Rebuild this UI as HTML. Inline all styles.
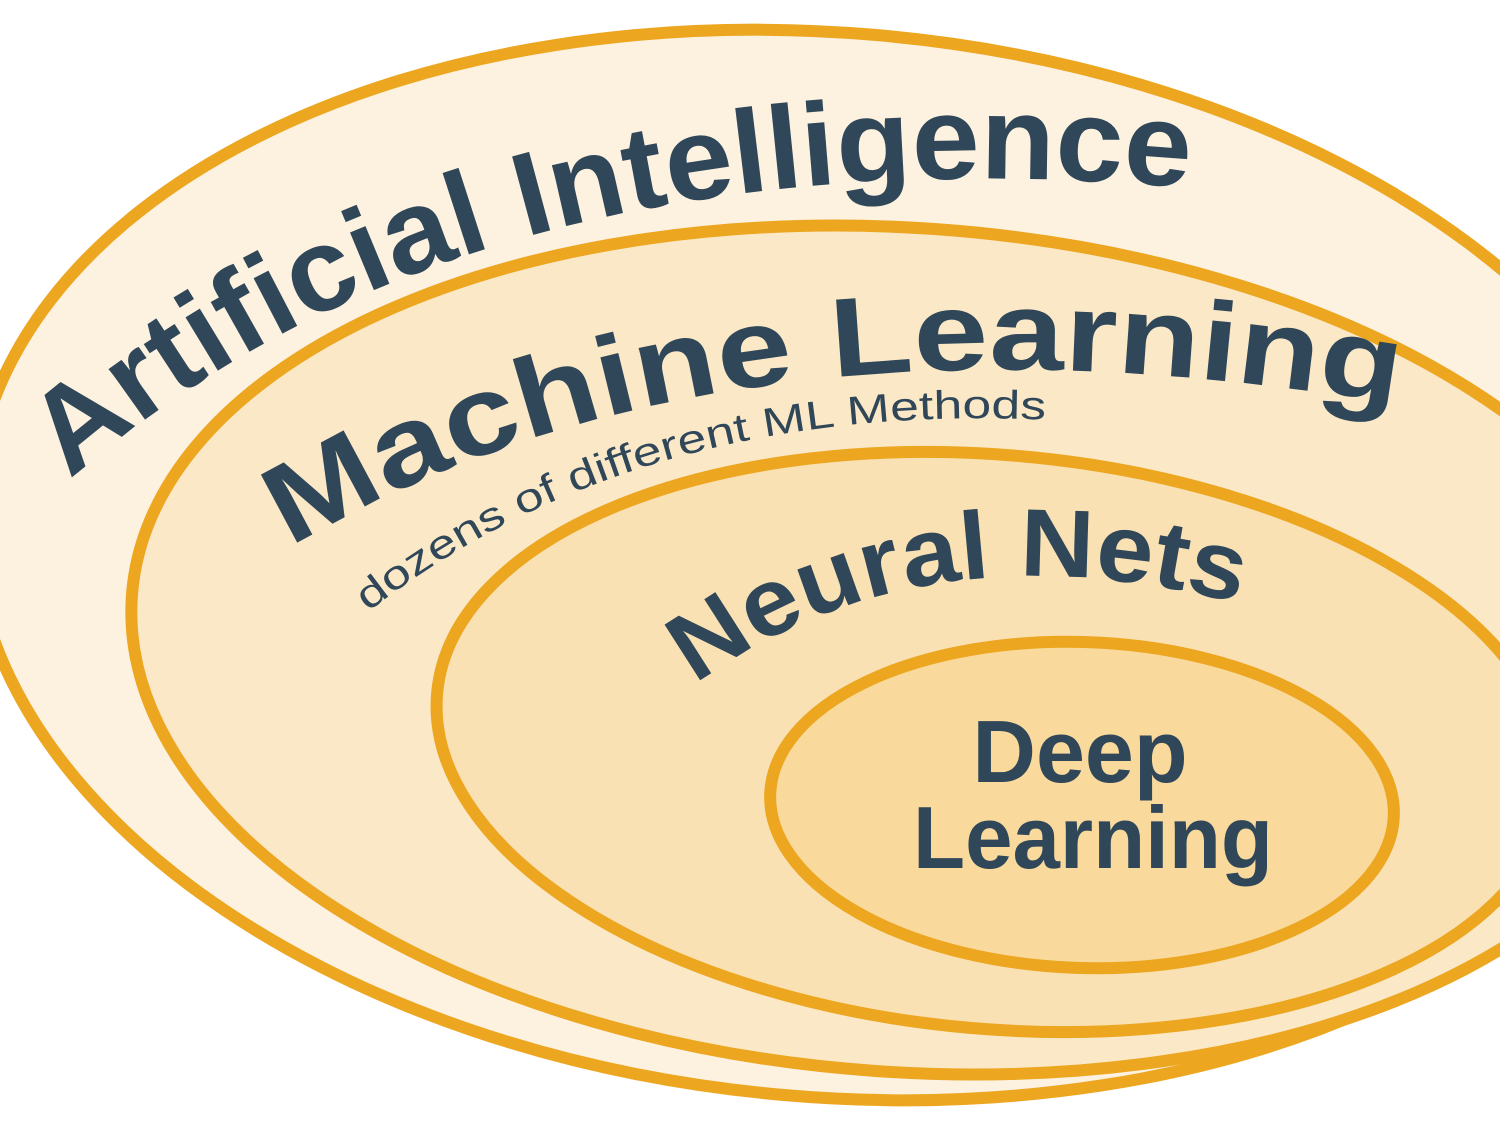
<!DOCTYPE html>
<html><head><meta charset="utf-8"><style>html,body{margin:0;padding:0;background:#fff;width:1500px;height:1125px;overflow:hidden}</style></head>
<body>
<svg width="1500" height="1125" viewBox="0 0 1500 1125" xmlns="http://www.w3.org/2000/svg" style="display:block">
<defs>
<path id="p1" d="M 70,480 Q 480,120 1215,190"/>
<path id="p2" d="M 290,548 Q 720,290 1400,405"/>
<path id="p3" d="M 368,612 Q 640,400 1050,420"/>
<path id="p4" d="M 695,685 Q 920,520 1245,605"/>
</defs>
<g stroke="#eca61f" stroke-width="12">
<ellipse cx="830" cy="565" rx="860" ry="532" transform="rotate(5 830 565)" fill="#fdf1e0"/>
<ellipse cx="905" cy="650" rx="775" ry="422" transform="rotate(4 905 650)" fill="#fbe8c7"/>
<ellipse cx="995" cy="742" rx="560" ry="287" transform="rotate(5 995 742)" fill="#fae1b3"/>
<ellipse cx="1082" cy="805" rx="312" ry="163" transform="rotate(2 1082 805)" fill="#f9da9c"/>
</g>
<g fill="#2f4759" font-family="Liberation Sans, sans-serif" font-weight="bold">
<text font-size="118"><textPath href="#p1" textLength="1190" lengthAdjust="spacingAndGlyphs">Artificial Intelligence</textPath></text>
<text font-size="112"><textPath href="#p2" textLength="1140" lengthAdjust="spacingAndGlyphs">Machine Learning</textPath></text>
<text font-size="40" font-weight="normal"><textPath href="#p3" textLength="720" lengthAdjust="spacingAndGlyphs">dozens of different ML Methods</textPath></text>
<text font-size="96"><textPath href="#p4" textLength="570" lengthAdjust="spacingAndGlyphs">Neural Nets</textPath></text>
<text font-size="88" x="1080" y="782" text-anchor="middle">Deep</text>
<text font-size="88" x="1093" y="868" text-anchor="middle" textLength="360" lengthAdjust="spacingAndGlyphs">Learning</text>
</g>
</svg>
</body></html>
